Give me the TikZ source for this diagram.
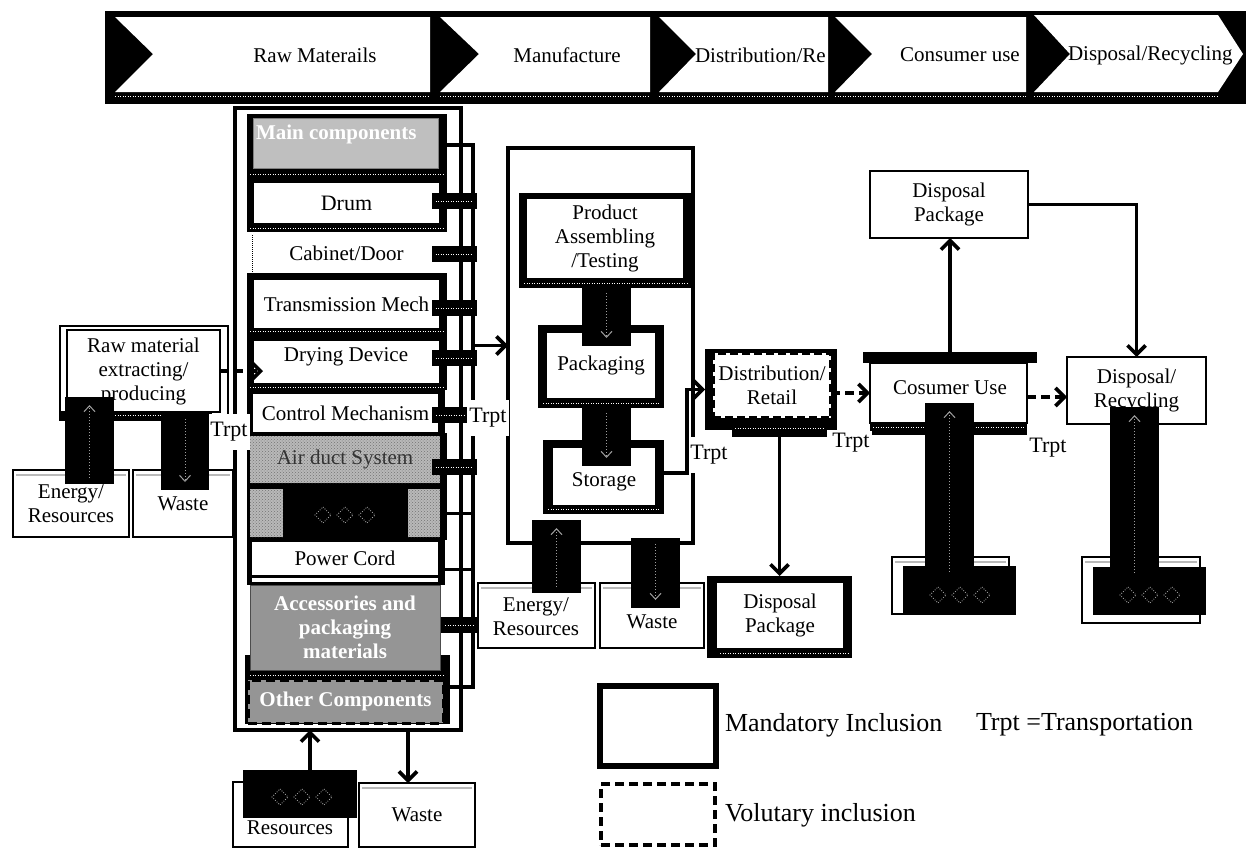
\documentclass[tikz,border=0pt]{standalone}
\usepackage{fontspec}
\setmainfont{Liberation Serif}
\usetikzlibrary{arrows.meta,patterns,calc}
\newcommand\myfs[2]{\fontsize{#1}{#2}\selectfont}
\newcommand\mkbox[7]{\node[#6, minimum width={#4-#2}, minimum height={#5-#3}] (#1) at ({(#2+#4)/2},{(#3+#5)/2}) {#7};}
\newcommand\triicon[2]{\foreach \dx in {-22,0,22}{\draw[gray!70, line width=0.8pt, dash pattern=on 0.8pt off 1.6pt] ({#1+\dx},{#2-8}) -- ({#1+\dx+8},{#2}) -- ({#1+\dx},{#2+8}) -- ({#1+\dx-8},{#2}) -- cycle;}}
\newcommand\upin[1]{\draw[dotarr] ([yshift=6pt]#1.south) -- ([yshift=-8pt]#1.north);}
\newcommand\downin[1]{\draw[dotarr] ([yshift=-6pt]#1.north) -- ([yshift=8pt]#1.south);}
\newcommand\cblk[4]{\node[fill=black, minimum width=#4, minimum height=16] (#1) at (#2,#3) {}; \draw[dotw] ([xshift=4pt]#1.west) -- ([xshift=-4pt]#1.east);}
\definecolor{mcgray}{HTML}{BFBFBF}
\definecolor{accgray}{HTML}{959595}
\tikzset{
 every node/.style={inner sep=0pt, outer sep=0pt},
 txt/.style={font=\myfs{21}{24}, align=center},
 btxt/.style={font=\myfs{21}{24}\bfseries, align=center, text=white},
 thinbox/.style={draw, line width=2.4pt, fill=white},
 blk/.style={fill=black},
 conn/.style={line width=3.6pt},
 arr/.style={line width=3.6pt, -{Straight Barb[length=9pt,width=18pt,line width=3.6pt]}},
 dasharr/.style={arr, dash pattern=on 9pt off 5pt},
 dotarr/.style={draw=gray!75, line width=1pt, dash pattern=on 1pt off 2pt, -{Straight Barb[length=6pt,width=11pt]}},
 dotw/.style={white, line width=1pt, dash pattern=on 1pt off 1.5pt},
 lab/.style={font=\myfs{22}{24}, fill=white, inner xsep=2pt, inner ysep=8pt},
 hatch/.style={fill=gray!55, postaction={pattern=crosshatch dots, pattern color=black!55}},
}
\begin{document}
\begin{tikzpicture}[x=1pt,y=-1pt]
\useasboundingbox (0,0) rectangle (1246,849);
% ---------------- top banner ----------------
\fill[black] (105,11) rectangle (1246,104);
\fill[white] (115,17) -- (430,17) -- (430,92) -- (115,92) -- (153,54) -- cycle;
\fill[white] (440,17) -- (650,17) -- (650,92) -- (440,92) -- (479,54) -- cycle;
\fill[white] (659,17) -- (828,17) -- (828,92) -- (659,92) -- (696,54) -- cycle;
\fill[white] (835,17) -- (1026,17) -- (1026,92) -- (835,92) -- (872,54) -- cycle;
\fill[white] (1034,15) -- (1218,15) -- (1243,54) -- (1218,92) -- (1034,92) -- (1070,54) -- cycle;
\foreach \a/\b in {115/430,440/650,659/828,835/1026,1034/1218}{\draw[dotw] (\a,96) -- (\b,96);}
\node[txt] (b1) at (315,55) {Raw Materails};
\node[txt] (b2) at (567,55) {Manufacture};
\node[txt, anchor=west] (b3) at (695,55) {Distribution/Re};
\node[txt] (b4) at (960,55) {Consumer use};
\node[txt, anchor=west] (b5) at (1068,55) {Disposal/Recycling};
% ---------------- left column ----------------
\mkbox{cont}{235}{108}{461}{730}{draw, line width=3.2pt}{}
\coordinate (bt) at (473,145);
\coordinate (bb) at (473,687);
\mkbox{mainf}{247}{114}{447}{181}{blk}{}
\mkbox{main}{253}{118}{438}{168}{fill=mcgray, draw=black!50, line width=0.6pt}{}
\node[btxt, anchor=west] (maint) at (256,134) {Main components};
\draw[dotw] (250,174) -- (444,174);
\mkbox{drumf}{247}{178}{447}{232}{blk}{}
\mkbox{drum}{254}{183}{439}{223}{fill=white, txt, font=\myfs{22}{24}}{Drum}
\draw[dotw] (250,228) -- (444,228);
\mkbox{cab}{252}{235}{441}{272}{fill=white, txt}{Cabinet/Door}
\draw[densely dotted, line width=1pt] (cab.north west) -- (cab.south west);
\mkbox{trf}{247}{273}{447}{334}{blk}{}
\mkbox{tr}{254}{280}{439}{328}{fill=white, txt}{Transmission Mech}
\draw[dotw] (250,331) -- (444,331);
\mkbox{dryf}{247}{334}{447}{390}{blk}{}
\mkbox{dry}{254}{341}{439}{383}{fill=white}{}
\node[txt] (dryt) at (346,357) {Drying Device};
\draw[dotw] (250,387) -- (444,387);
\mkbox{ctlf}{247}{390}{445}{436}{blk}{}
\mkbox{ctl}{253}{394}{438}{432}{fill=white, txt}{Control Mechanism}
\mkbox{airf}{247}{433}{447}{488}{blk}{}
\mkbox{air}{250}{436}{440}{483}{hatch, txt, text=black!80}{Air duct System}
\mkbox{icof}{247}{487}{447}{540}{blk}{}
\fill[hatch] (250,489) rectangle (283,537);
\fill[hatch] (408,489) rectangle (440,537);
\triicon{345}{515}
\mkbox{pcf}{247}{540}{445}{585}{blk}{}
\mkbox{pc}{252}{542}{438}{575}{fill=white, txt}{Power Cord}
\fill[white] (252,578) rectangle (438,582);
\fill[black] (245,655) rectangle (450,724);
\mkbox{acc}{250}{585}{440}{670}{fill=accgray, draw=black!70, line width=1pt, btxt}{Accessories and\\packaging\\materials}
\draw[dotw] (250,675) -- (444,675);
\mkbox{oth}{248}{680}{443}{723}{fill=accgray, draw=black, line width=3pt, dash pattern=on 9pt off 5pt, btxt}{Other Components}
% bus lines
\draw[conn] (mainf.east |- bt) -- (bt) -- (bb) -- (bb -| oth.east);
\draw[conn] (icof.east) -- (icof.east -| bt);
\draw[conn] ([yshift=-7pt]pcf.east) -- ([yshift=-7pt]pcf.east -| bt);
\cblk{cb1}{454}{201}{45}
\cblk{cb2}{454}{254}{45}
\cblk{cb3}{454}{308}{45}
\cblk{cb4}{454}{358}{45}
\cblk{cb5}{450}{415}{36}
\cblk{cb6}{454}{467}{45}
\cblk{cb7}{460}{625}{38}
% raw material box
\mkbox{rawo}{60}{326}{228}{420}{draw, line width=2.4pt}{}
\mkbox{raw}{67}{330}{220}{412}{thinbox, line width=1.6pt, txt}{Raw material\\extracting/\\producing}
\fill[black] (60,411) rectangle (212,420);
\draw[dotw] (115,415) -- (208,415);
\draw[dasharr] (raw.east) -- ([xshift=9pt]raw.east -| dry.west);
\node[lab] (trpt0) at (229,432) {Trpt};
\mkbox{er1}{13}{470}{129}{537}{thinbox, txt}{Energy/\\Resources}
\mkbox{ws1}{133}{470}{233}{537}{thinbox, txt}{Waste}
\draw[gray!55, line width=2pt] (16,475) -- (126,475);
\draw[gray!55, line width=2pt] (136,475) -- (230,475);
\mkbox{lb1}{65}{397}{114}{484}{blk}{}
\upin{lb1}
\mkbox{lb2}{161}{413}{209}{490}{blk}{}
\downin{lb2}
% bottom of left column
\mkbox{res}{233}{782}{348}{847}{thinbox}{}
\node[txt] (rest) at (290,828) {Resources};
\mkbox{ws3}{359}{783}{475}{847}{thinbox, txt}{Waste}
\draw[gray!55, line width=2pt] (362,788) -- (472,788);
\mkbox{rblk}{243}{770}{357}{818}{blk}{}
\triicon{302}{797}
\coordinate (u1) at (310,770);
\coordinate (d1) at (408,730);
\draw[arr] (u1) -- (u1 |- cont.south);
\draw[arr] (d1 |- cont.south) -- (d1 |- ws3.north);
% ---------------- middle (manufacture) ----------------
\mkbox{midc}{508}{148}{693}{543}{draw, line width=3.2pt}{}
\draw[arr] (midc.west -| bt) -- (midc.west);
\node[lab] (trpt1) at (488,418) {Trpt};
\mkbox{pasf}{519}{193}{692}{288}{blk}{}
\mkbox{pas}{527}{199}{683}{278}{fill=white, txt}{Product\\Assembling\\/Testing}
\draw[dotw] (524,283) -- (688,283);
\mkbox{pkgf}{538}{325}{664}{408}{blk}{}
\mkbox{pkg}{547}{333}{655}{398}{fill=white, txt}{Packaging}
\draw[dotw] (543,403) -- (660,403);
\mkbox{stof}{543}{440}{664}{514}{blk}{}
\mkbox{sto}{553}{448}{655}{505}{fill=white, txt}{\\Storage}
\draw[dotw] (548,509) -- (660,509);
\mkbox{ab1}{582}{287}{631}{346}{blk}{}
\downin{ab1}
\mkbox{ab2}{582}{407}{631}{466}{blk}{}
\downin{ab2}
\node[lab] (trpt2) at (709,455) {Trpt};
% distribution
\mkbox{distf}{705}{349}{837}{430}{blk}{}
\mkbox{dstrip}{732}{424}{827}{437}{blk}{}
\draw[dotw] (735,428) -- (824,428);
\mkbox{dist}{713}{353}{831}{418}{fill=white, draw, line width=3.4pt, dash pattern=on 8pt off 4pt, txt}{Distribution/\\Retail}
\coordinate (s1) at (664,473);
\draw[arr] (s1) -- (687,473) |- (distf.west);
% energy / waste / disposal package below
\mkbox{er2}{478}{583}{595}{648}{thinbox}{}
\node[txt] (er2t) at (536,617) {Energy/\\Resources};
\mkbox{ws2}{600}{583}{704}{648}{thinbox}{}
\node[txt] (ws2t) at (652,622) {Waste};
\draw[gray!55, line width=2pt] (481,588) -- (592,588);
\draw[gray!55, line width=2pt] (603,588) -- (701,588);
\mkbox{eb2}{532}{520}{581}{593}{blk}{}
\upin{eb2}
\mkbox{wb2}{631}{538}{680}{608}{blk}{}
\downin{wb2}
\mkbox{dpkf}{707}{576}{852}{658}{blk}{}
\mkbox{dpk}{717}{583}{843}{648}{fill=white, txt}{Disposal\\Package}
\draw[dotw] (720,653) -- (848,653);
\draw[arr] (dstrip.south) -- (dstrip.south |- dpkf.north);
% ---------------- consumer use / disposal ----------------
\mkbox{cu}{870}{363}{1027}{423}{thinbox}{}
\node[txt] (cut0) at (950,388) {Cosumer Use};
\mkbox{cubar}{863}{352}{1037}{363}{blk}{}
\mkbox{cubot}{870}{423}{1027}{435}{blk}{}
\draw[dotw] (873,427) -- (1024,427);
\draw[dasharr] (dist.east |- cu.west) -- (cu.west);
\node[lab, inner ysep=2pt] (trpt3) at (851,443) {Trpt};
\mkbox{dtop}{870}{171}{1028}{238}{thinbox, txt}{Disposal\\Package}
\mkbox{rec}{1067}{357}{1206}{424}{thinbox, txt}{Disposal/\\Recycling}
\draw[arr] (cubar.north) -- (cubar.north |- dtop.south);
\draw[arr] (dtop.east) -| (rec.north);
\draw[dasharr] ([yshift=-4pt]cu.east) -- ([yshift=-4pt]cu.east -| rec.west);
\node[lab, inner ysep=2pt] (trpt4) at (1048,448) {Trpt};
\mkbox{cuB}{892}{557}{1009}{614}{thinbox}{}
\mkbox{recB}{1082}{557}{1200}{623}{thinbox}{}
\draw[gray!55, line width=2pt] (895,562) -- (1006,562);
\draw[gray!55, line width=2pt] (1085,562) -- (1197,562);
\mkbox{cut}{925}{403}{974}{567}{blk}{}
\mkbox{cuw}{903}{566}{1016}{615}{blk}{}
\mkbox{rct}{1110}{407}{1159}{567}{blk}{}
\mkbox{rcw}{1093}{567}{1206}{615}{blk}{}
\draw[dotarr] ([yshift=-6pt]cuw.north -| cut.south) -- ([yshift=-8pt]cut.north);
\draw[dotarr] ([yshift=-6pt]rcw.north -| rct.south) -- ([yshift=-8pt]rct.north);
\triicon{960}{595}
\triicon{1150}{595}
% ---------------- legend ----------------
\mkbox{lgm}{600}{686}{716}{766}{draw, line width=5.5pt}{}
\node[anchor=west, font=\myfs{26}{28}] (lgmt) at (725,725) {Mandatory Inclusion};
\node[anchor=west, font=\myfs{26}{28}] (lgtr) at (976,725) {Trpt =Transportation};
\mkbox{lgv}{601}{784}{715}{845}{draw, line width=4.5pt, dash pattern=on 9pt off 5pt}{}
\node[anchor=west, font=\myfs{26}{28}] (lgvt) at (725,815) {Volutary inclusion};
\end{tikzpicture}
\end{document}
